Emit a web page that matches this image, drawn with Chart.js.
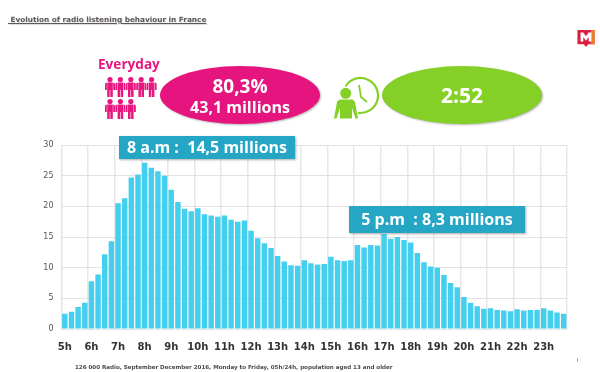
<!DOCTYPE html>
<html lang="en">
<head>
<meta charset="UTF-8">
<title>Evolution of radio listening behaviour in France</title>
<script src="https://cdn.jsdelivr.net/npm/chart.js"></script>
<style>
    html, body { margin: 0; padding: 0; background: #fff; }
    #page { position: relative; width: 600px; height: 372px; overflow: hidden; font-family: "Open Sans", sans-serif; }
    #radioChart { position: absolute; left: 0; top: 0; }
    .abs { position: absolute; white-space: nowrap; }
    #title { left: 8px; top: 15px; font: bold 7.3px "DejaVu Sans", sans-serif; color: #5f5a5a; text-decoration: underline; text-shadow: 1px 1px 1px #ddd; }
    #everyday { left: 98px; top: 54px; font-size: 13.6px; font-weight: 700; color: #e6177f; }
    .ellipse { border-radius: 50%; color: #fff; font-weight: 700; text-align: center; box-shadow: 1px 1px 2px rgba(90,90,90,.45); }
    #pink { left: 160px; top: 66px; width: 160px; height: 58px; background: #e5147e; }
    #pink div:first-child { font-size: 19px; line-height: 21px; margin-top: 10px; }
    #pink div:last-child { font-size: 16px; line-height: 20px; }
    #green { left: 382px; top: 66px; width: 160px; height: 58px; background: #84d026; font-size: 21px; line-height: 58px; }
    .callout { background: #26a6c5; color: #fff; font-weight: 700; font-size: 16px; text-align: center; box-shadow: 1px 1px 2px rgba(90,90,90,.5); }
    #morning { left: 119px; top: 136px; width: 176px; height: 23px; line-height: 23px; }
    #evening { left: 349px; top: 206px; width: 176px; height: 27px; line-height: 27px; }
    #source { left: 75px; top: 364px; font: bold 5.55px "DejaVu Sans", sans-serif; color: #4a4a4a; }
    #mark { left: 577px; top: 358px; width: 1px; height: 4px; background: #aaa; }
</style>
</head>
<body>
<div id="page">
    <canvas id="radioChart" width="600" height="372"></canvas>
    <div class="abs" id="title">&nbsp;Evolution of radio listening behaviour in France</div>
    <div class="abs" id="everyday">Everyday</div>
    <svg class="abs" id="people" style="left:105px;top:77px" width="54" height="44" viewBox="0 0 54 44"></svg>
    <div class="abs ellipse" id="pink"><div>80,3%</div><div>43,1 millions</div></div>
    <svg class="abs" style="left:332px;top:76px" width="48" height="46" viewBox="0 0 48 46">
        <path d="M13.5 10.5 A17.5 17.5 0 1 1 26 36.8" fill="none" stroke="#84d026" stroke-width="2.2"/>
        <path d="M27 9 L29 21 L35 26" fill="none" stroke="#84d026" stroke-width="1.8"/>
        <circle cx="13.7" cy="17.3" r="5.5" fill="#84d026"/>
        <path d="M8 23.5 H20 Q22 23.5 23 26 L26 42.5 H23.5 L20 32 V42.5 H8 V32 L4.5 42.5 H2 L5 26 Q6 23.5 8 23.5 Z" fill="#84d026"/>
    </svg>
    <div class="abs ellipse" id="green">2:52</div>
    <svg class="abs" style="left:577px;top:29px" width="18" height="18" viewBox="0 0 19 20">
        <path d="M0 1 H19 V17 H12 L9.5 20 L7 17 H0 Z" fill="#d8203f"/>
        <path d="M15 1 H19 V17 H15 Z" fill="#ee7d22"/>
        <path d="M3.5 14 V4 H6.5 L9.5 8 L12.5 4 H15.5 V14 H12.5 V9 L9.5 13 L6.5 9 V14 Z" fill="#fff"/>
    </svg>
    <div class="abs callout" id="morning">8 a.m :&nbsp; 14,5 millions</div>
    <div class="abs callout" id="evening">5 p.m&nbsp; : 8,3 millions</div>
    <div class="abs" id="source">126 000 Radio, September December 2016, Monday to Friday, 05h/24h, population aged 13 and older</div>
    <div class="abs" id="mark"></div>
</div>
<script>
    const hours = ['5h','6h','7h','8h','9h','10h','11h','12h','13h','14h','15h','16h','17h','18h','19h','20h','21h','22h','23h'];
    // one value per quarter hour
    const audience = [
        2.5, 2.8, 3.6, 4.3, 7.8, 8.9, 12.2, 14.3,
        20.5, 21.3, 24.7, 25.2, 27.1, 26.3, 25.7, 25.0,
        22.7, 20.7, 19.6, 19.2, 19.7, 18.7, 18.5, 18.3,
        18.5, 17.8, 17.5, 17.7, 16.0, 14.8, 14.0, 13.2,
        11.9, 11.0, 10.4, 10.3, 11.2, 10.7, 10.5, 10.6,
        11.8, 11.2, 11.1, 11.2, 13.7, 13.3, 13.7, 13.6,
        15.5, 14.7, 15.0, 14.5, 14.1, 12.4, 10.9, 10.2,
        10.0, 8.8, 7.5, 6.8, 5.2, 4.3, 3.7, 3.3,
        3.4, 3.1, 3.0, 2.9, 3.2, 3.0, 3.1, 3.1,
        3.4, 3.0, 2.7, 2.5
    ];
    const perHour = 4;
    const labels = audience.map((v, i) => i % perHour === 0 ? hours[i / perHour] : '');

    // the little people next to "Everyday"
    let people = '';
    for (let i = 0; i < 8; i++) {
        const x = i < 5 ? i * 10.4 : (i - 5) * 10.4;
        const y = i < 5 ? 0 : 22;
        people += '<g transform="translate(' + x + ',' + y + ')" fill="#e6177f">' +
            '<circle cx="5" cy="2.6" r="2.6"/>' +
            '<path d="M2.2 5.4 H7.8 V20 H5.3 V13 H4.7 V20 H2.2 Z"/>' +
            '<path d="M1.8 5.4 V13 H0 V7 Q0 5.4 1.8 5.4 Z M8.2 5.4 Q10 5.4 10 7 V13 H8.2 Z"/></g>';
    }
    document.getElementById('people').innerHTML = people;

    new Chart(document.getElementById('radioChart').getContext('2d'), {
        type: 'bar',
        data: {
            labels: labels,
            datasets: [{
                data: audience,
                backgroundColor: '#45cfee',
                barPercentage: 0.82,
                categoryPercentage: 1
            }]
        },
        options: {
            responsive: false,
            animation: false,
            layout: { padding: { left: 0, top: 145, right: 33, bottom: 0 } },
            plugins: { legend: { display: false }, tooltip: { enabled: false } },
            scales: {
                x: {
                    afterFit: scale => { scale.height = 43; },
                    border: { color: '#e4e4e4' },
                    grid: {
                        drawTicks: false,
                        lineWidth: 1.5,
                        color: ctx => (ctx.index === undefined || ctx.index % perHour === 0) ? '#e8e8e8' : 'transparent'
                    },
                    ticks: {
                        autoSkip: false,
                        maxRotation: 0,
                        padding: 12,
                        color: '#333',
                        font: { family: '"DejaVu Sans"', size: 10, weight: 'bold' }
                    }
                },
                y: {
                    min: 0,
                    max: 30,
                    afterFit: scale => { scale.width = 61.5; },
                    border: { color: '#e4e4e4' },
                    grid: { drawTicks: false, lineWidth: 1, color: '#e2e2e2' },
                    ticks: {
                        stepSize: 5,
                        padding: 8,
                        color: '#555',
                        font: { family: '"DejaVu Sans"', size: 8 }
                    }
                }
            }
        }
    });
</script>
</body>
</html>
